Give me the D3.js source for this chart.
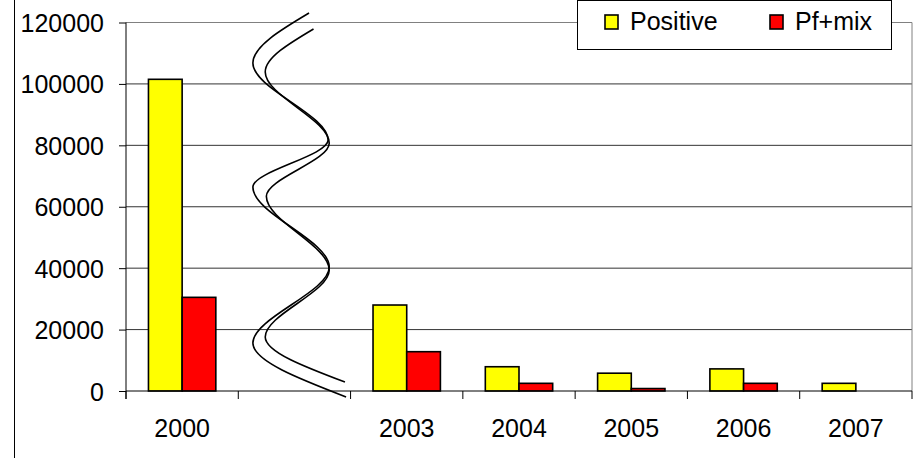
<!DOCTYPE html>
<html>
<head>
<meta charset="utf-8">
<script src="https://cdn.jsdelivr.net/npm/d3@7"></script>
<style>
  body { margin: 0; background: #fff; }
  text { font-family: "Liberation Sans", Arial, sans-serif; font-size: 25px; fill: #000; }
</style>
</head>
<body>
<div id="chart"></div>
<script>
// chart data
var categories = ["2000", "", "2003", "2004", "2005", "2006", "2007"];
var seriesNames = ["Positive", "Pf+mix"];
var seriesColors = ["#ffff00", "#ff0000"];
var positive = [101500, null, 28000, 7900, 5800, 7200, 2500];
var pfMix = [30500, null, 12800, 2500, 800, 2500, 0];
var yTicks = [0, 20000, 40000, 60000, 80000, 100000, 120000];

// axis break squiggle in the empty category: [value, position across band]
var breakA = [[123100, 0.63], [106800, 0.13], [81700, 0.80], [66400, 0.13],
  [40400, 0.81], [15600, 0.13], [-1950, 0.96]];
var breakB = [[117900, 0.67], [103900, 0.24], [80700, 0.81], [63400, 0.25],
  [39400, 0.81], [17600, 0.24], [2900, 0.95]];

var svgWidth = 914;
var svgHeight = 458;
var margin = { top: 22.5, bottom: 67, left: 126, right: 2 };

var svg = d3
  .select("#chart")
  .append("svg")
  .attr("width", svgWidth)
  .attr("height", svgHeight);

// outer chart border (left edge only visible)
svg.append("line")
  .attr("x1", 14.5).attr("x2", 14.5)
  .attr("y1", 0).attr("y2", svgHeight)
  .attr("stroke", "#000");

var x0 = d3.scaleBand()
  .domain(d3.range(categories.length))
  .range([margin.left, svgWidth - margin.right])
  .padding(0);

var bw = x0.bandwidth();
var x1 = d3.scaleBand()
  .domain(d3.range(seriesNames.length))
  .range([bw * 0.2, bw * 0.8])
  .padding(0);

var y = d3.scaleLinear()
  .domain([0, 120000])
  .range([svgHeight - margin.bottom, margin.top]);

// gridlines
svg.append("g")
  .selectAll("line")
  .data(yTicks.filter(d => d > 0))
  .enter()
  .append("line")
  .attr("x1", margin.left)
  .attr("x2", svgWidth - margin.right)
  .attr("y1", d => y(d))
  .attr("y2", d => y(d))
  .attr("stroke", d => d === 120000 ? "#808080" : "#333")
  .attr("stroke-width", 1);

// plot area right border
svg.append("line")
  .attr("x1", svgWidth - margin.right).attr("x2", svgWidth - margin.right)
  .attr("y1", y(120000)).attr("y2", y(0))
  .attr("stroke", "#808080");

// bars
var rows = categories.map((c, i) => ({ i: i, values: [positive[i], pfMix[i]] }));
var groups = svg.append("g")
  .selectAll("g")
  .data(rows)
  .enter()
  .append("g")
  .attr("transform", d => `translate(${x0(d.i)},0)`);

groups.selectAll("rect")
  .data(d => d.values.map((v, s) => ({ s: s, v: v })).filter(e => e.v))
  .enter()
  .append("rect")
  .attr("x", d => x1(d.s))
  .attr("width", x1.bandwidth())
  .attr("y", d => y(d.v))
  .attr("height", d => y(0) - y(d.v))
  .attr("fill", d => seriesColors[d.s])
  .attr("stroke", "#000")
  .attr("stroke-width", 1.6);

// y axis
var leftAxis = d3.axisLeft(y)
  .tickValues(yTicks)
  .tickSize(7)
  .tickPadding(15)
  .tickFormat(d3.format("d"));
var yAxis = svg.append("g")
  .attr("transform", `translate(${margin.left},0)`)
  .call(leftAxis);
yAxis.select(".domain").remove();
yAxis.selectAll("text").style("font-size", "25px").attr("dy", "0.36em");

// x axis with ticks between categories
var bottomAxis = svg.append("g");
bottomAxis.append("line")
  .attr("x1", margin.left).attr("x2", svgWidth - margin.right)
  .attr("y1", y(0)).attr("y2", y(0))
  .attr("stroke", "#000");
bottomAxis.selectAll(".sep")
  .data(d3.range(categories.length + 1))
  .enter()
  .append("line")
  .attr("class", "sep")
  .attr("x1", d => margin.left + d * bw)
  .attr("x2", d => margin.left + d * bw)
  .attr("y1", y(0))
  .attr("y2", y(0) + 8)
  .attr("stroke", "#000");
bottomAxis.selectAll("text")
  .data(categories)
  .enter()
  .append("text")
  .attr("x", (d, i) => x0(i) + bw / 2)
  .attr("y", 437)
  .attr("text-anchor", "middle")
  .text(d => d);

// y axis line
svg.append("line")
  .attr("x1", margin.left).attr("x2", margin.left)
  .attr("y1", y(120000)).attr("y2", y(0) + 8)
  .attr("stroke", "#000");

// break squiggle
var breakLine = d3.line()
  .x(d => x0(1) + d[1] * bw)
  .y(d => y(d[0]))
  .curve(d3.curveMonotoneY);
svg.append("g")
  .selectAll("path")
  .data([breakA, breakB])
  .enter()
  .append("path")
  .attr("d", breakLine)
  .attr("fill", "none")
  .attr("stroke", "#000")
  .attr("stroke-width", 1.6);

// legend
var legend = svg.append("g");
legend.append("rect")
  .attr("x", 577.5).attr("y", 0.5)
  .attr("width", 314).attr("height", 49)
  .attr("fill", "#fff")
  .attr("stroke", "#000");
var legendX = [605, 770];
seriesNames.forEach(function(name, s) {
  legend.append("rect")
    .attr("x", legendX[s]).attr("y", 15)
    .attr("width", 13).attr("height", 14)
    .attr("fill", seriesColors[s])
    .attr("stroke", "#000")
    .attr("stroke-width", 1.6);
  legend.append("text")
    .attr("x", legendX[s] + 25)
    .attr("y", 30)
    .text(name);
});
</script>
</body>
</html>
